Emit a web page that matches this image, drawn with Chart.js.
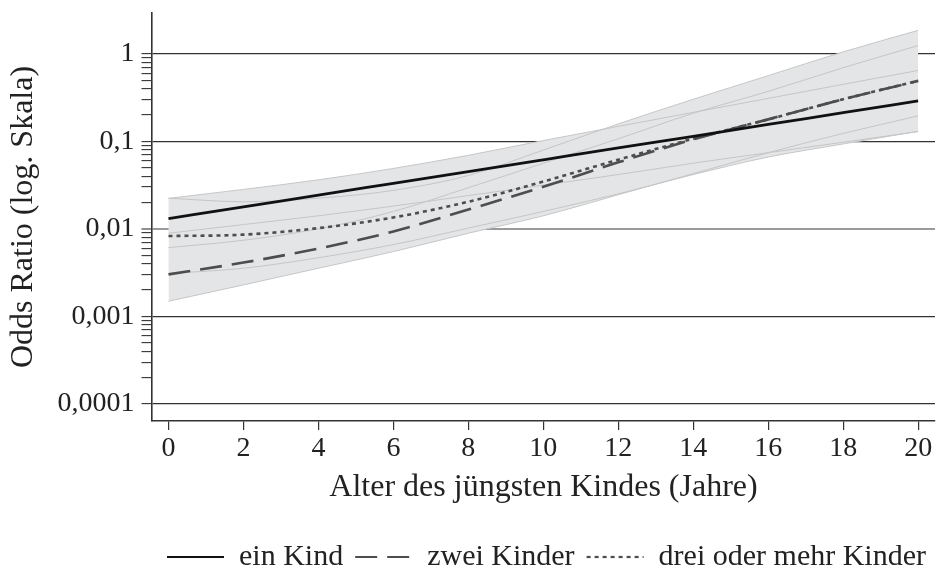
<!DOCTYPE html>
<html lang="de">
<head>
<meta charset="utf-8">
<title>Odds Ratio nach Alter des jüngsten Kindes</title>
<script src="https://cdn.jsdelivr.net/npm/chart.js@4.4.1/dist/chart.umd.min.js"></script>
<style>
  html, body { margin: 0; padding: 0; background: #fff; overflow: hidden; }
  #wrap { position: relative; width: 938px; height: 582px; }
</style>
</head>
<body>
<div id="wrap"><canvas id="orChart"></canvas></div>
<script>
// === Data (odds ratios) ===
const ages = [0, 2, 4, 6, 8, 10, 12, 14, 16, 18, 20];

const einKind      = [0.0131, 0.0178, 0.0243, 0.0331, 0.0451, 0.0615, 0.0839, 0.114, 0.156, 0.212, 0.29];
const einKindUpper = [0.0223, 0.0282, 0.0363, 0.0490, 0.0692, 0.102, 0.148, 0.214, 0.309, 0.447, 0.644];
const einKindLower = [0.00891, 0.0112, 0.0141, 0.0182, 0.0240, 0.0316, 0.0417, 0.0562, 0.0741, 0.0977, 0.129];

const zweiKinder      = [0.00302, 0.00412, 0.00596, 0.00933, 0.0166, 0.0302, 0.0575, 0.105, 0.178, 0.302, 0.490];
const zweiKinderUpper = [0.00611, 0.00741, 0.0100, 0.0158, 0.0295, 0.0562, 0.107, 0.209, 0.372, 0.692, 1.24];
const zweiKinderLower = [0.00149, 0.00229, 0.00355, 0.00550, 0.00891, 0.0141, 0.0245, 0.0427, 0.0741, 0.123, 0.195];

const dreiKinder      = [0.00828, 0.00859, 0.0102, 0.0135, 0.0204, 0.0347, 0.0617, 0.107, 0.178, 0.302, 0.490];
const dreiKinderUpper = [0.0224, 0.0204, 0.0224, 0.0275, 0.0407, 0.0794, 0.158, 0.302, 0.562, 1.05, 1.85];
const dreiKinderLower = [0.00309, 0.00355, 0.00468, 0.00661, 0.0102, 0.0158, 0.0251, 0.0417, 0.0661, 0.0933, 0.130];

const seriesLabels = ['ein Kind', 'zwei Kinder', 'drei oder mehr Kinder'];

const xTicks = [0, 2, 4, 6, 8, 10, 12, 14, 16, 18, 20];
const yTickValues = [0.0001, 0.001, 0.01, 0.1, 1];
const yTickLabels = ['0,0001', '0,001', '0,01', '0,1', '1'];

// === Style ===
const FONT = "'Liberation Serif', 'Times New Roman', serif";
const TEXT = '#222';
const AXIS = '#333';
const BAND_FILL = '#e4e5e7';
const BAND_LINE = '#c6c6c6';

const pts = (vals) => ages.map((a, i) => ({ x: a, y: vals[i] }));

const isMajor = (v) => yTickValues.some(t => Math.abs(Math.log10(v) - Math.log10(t)) < 1e-6);

function estLine(label, vals, color, dash, width) {
    return {
        label,
        data: pts(vals),
        borderColor: color,
        backgroundColor: color,
        borderWidth: width,
        borderDash: dash,
        pointRadius: 0,
        fill: false
    };
}

function bandLine(vals, fillNext) {
    return {
        label: '',
        data: pts(vals),
        borderColor: BAND_LINE,
        backgroundColor: BAND_FILL,
        borderWidth: 1,
        pointRadius: 0,
        fill: fillNext ? '+1' : false
    };
}

const datasets = [
    estLine(seriesLabels[0], einKind, '#111111', [], 2.8),
    estLine(seriesLabels[1], zweiKinder, '#4d4d4d', [22, 10], 2.6),
    estLine(seriesLabels[2], dreiKinder, '#4d4d4d', [4, 4], 2.6),
    bandLine(einKindUpper, true),
    bandLine(einKindLower, false),
    bandLine(zweiKinderUpper, true),
    bandLine(zweiKinderLower, false),
    bandLine(dreiKinderUpper, true),
    bandLine(dreiKinderLower, false)
];

new Chart(document.getElementById('orChart'), {
    type: 'line',
    data: { datasets },
    options: {
        responsive: true,
        maintainAspectRatio: false,
        animation: false,
        events: [],
        layout: { padding: { top: 13, right: 0, bottom: 0, left: 0 } },
        datasets: {
            line: { cubicInterpolationMode: 'monotone', spanGaps: true }
        },
        scales: {
            x: {
                type: 'linear',
                min: -0.44,
                max: 20.45,
                afterBuildTicks: (s) => { s.ticks = xTicks.map(v => ({ value: v })); },
                afterFit: (s) => {
                    s.height = 109;
                    s.paddingLeft = 0;
                    s.paddingRight = 3;
                },
                ticks: {
                    autoSkip: false,
                    maxRotation: 0,
                    padding: 2,
                    color: TEXT,
                    font: { family: FONT, size: 28 }
                },
                grid: {
                    drawOnChartArea: false,
                    drawTicks: true,
                    tickLength: 9,
                    color: AXIS,
                    lineWidth: 1.2
                },
                border: { display: true, color: AXIS, width: 1.6 },
                title: {
                    display: true,
                    text: 'Alter des jüngsten Kindes (Jahre)',
                    color: TEXT,
                    font: { family: FONT, size: 32 },
                    padding: { top: 0, bottom: 23 }
                }
            },
            y: {
                type: 'logarithmic',
                min: 6.39e-5,
                max: 2.92,
                afterBuildTicks: (s) => {
                    const t = [];
                    yTickValues.forEach((v, i) => {
                        t.push({ value: v });
                        if (i < yTickValues.length - 1) {
                            for (let k = 2; k <= 9; k++) t.push({ value: +(v * k).toPrecision(3) });
                        }
                    });
                    s.ticks = t;
                },
                afterFit: (s) => {
                    s.width = 152;
                    s.paddingTop = 0;
                    s.paddingBottom = 0;
                },
                ticks: {
                    autoSkip: false,
                    padding: 7,
                    color: TEXT,
                    font: { family: FONT, size: 28 },
                    callback: (v) => {
                        const i = yTickValues.findIndex(t => Math.abs(Math.log10(v) - Math.log10(t)) < 1e-6);
                        return i >= 0 ? yTickLabels[i] : '';
                    }
                },
                grid: {
                    drawTicks: true,
                    tickLength: 10.5,
                    tickColor: AXIS,
                    tickWidth: 1.1,
                    color: (c) => {
                        const v = c.tick && c.tick.value;
                        if (!v || !isMajor(v)) return 'rgba(0,0,0,0)';
                        return Math.abs(v - 0.01) < 1e-9 ? '#9a9a9a' : AXIS;
                    },
                    lineWidth: (c) => (c.tick && Math.abs(c.tick.value - 0.01) < 1e-9 ? 2 : 1.2)
                },
                border: { display: true, color: AXIS, width: 1.6 },
                title: {
                    display: true,
                    text: 'Odds Ratio (log. Skala)',
                    color: TEXT,
                    font: { family: FONT, size: 32 },
                    padding: { top: 4, bottom: 0 }
                }
            }
        },
        plugins: {
            filler: { drawTime: 'beforeDatasetsDraw' },
            tooltip: { enabled: false },
            legend: {
                display: true,
                position: 'bottom',
                align: 'end',
                labels: {
                    usePointStyle: true,
                    pointStyleWidth: 57,
                    padding: 12,
                    color: TEXT,
                    font: { family: FONT, size: 30 },
                    generateLabels: (chart) => chart.data.datasets.slice(0, 3).map((ds, i) => ({
                        text: ds.label,
                        datasetIndex: i,
                        fillStyle: ds.borderColor,
                        strokeStyle: ds.borderColor,
                        fontColor: TEXT,
                        lineWidth: 2.2,
                        lineDash: ds.borderDash,
                        pointStyle: 'line',
                        hidden: false
                    }))
                }
            }
        }
    }
});
</script>
</body>
</html>
